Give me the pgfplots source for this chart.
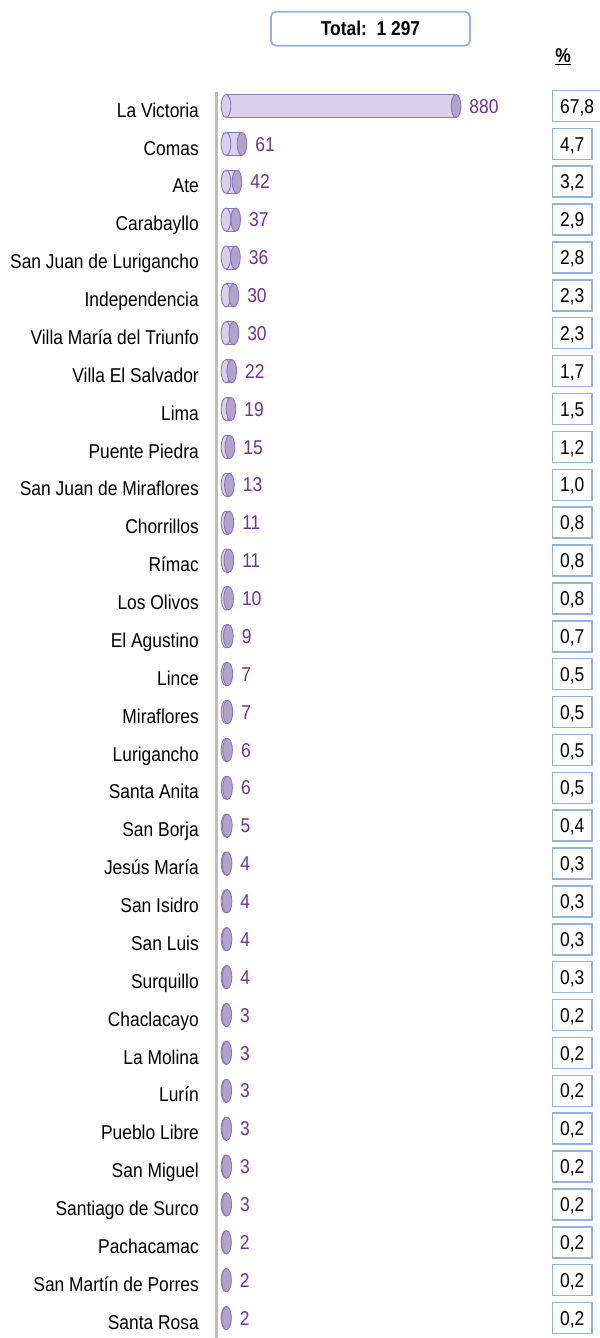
\documentclass[border=0pt]{standalone}
\usepackage{fontspec}
\setmainfont{Liberation Sans}[FakeStretch=0.87]
\usepackage{pgfplots}
\pgfplotsset{compat=1.18}
\usepackage{pgfplotstable}
\definecolor{barfill}{RGB}{217,209,235}
\definecolor{baredge}{RGB}{140,118,190}
\definecolor{capfill}{RGB}{176,164,202}
\definecolor{vallab}{RGB}{112,48,160}
\definecolor{boxblue}{RGB}{149,179,215}
\definecolor{axgray}{RGB}{190,190,190}
\newcommand\lab{\fontsize{20bp}{23bp}\selectfont}

\pgfplotstableread{
idx val pct base pos
0 880 67,8 0 1247
1 61 4,7 0 1247
2 42 3,2 0 1247
3 37 2,9 0 1247
4 36 2,8 0 1247
5 30 2,3 0 1247
6 30 2,3 0 1247
7 22 1,7 0 1247
8 19 1,5 0 1247
9 15 1,2 0 1247
10 13 1,0 0 1247
11 11 0,8 0 1247
12 11 0,8 0 1247
13 10 0,8 0 1247
14 9 0,7 0 1247
15 7 0,5 0 1247
16 7 0,5 0 1247
17 6 0,5 0 1247
18 6 0,5 0 1247
19 5 0,4 0 1247
20 4 0,3 0 1247
21 4 0,3 0 1247
22 4 0,3 0 1247
23 4 0,3 0 1247
24 3 0,2 0 1247
25 3 0,2 0 1247
26 3 0,2 0 1247
27 3 0,2 0 1247
28 3 0,2 0 1247
29 3 0,2 0 1247
30 2 0,2 0 1247
31 2 0,2 0 1247
32 2 0,2 0 1247
}\datatable

\begin{document}
\begin{tikzpicture}
\begin{axis}[
  at={(216.5bp,0bp)}, anchor=south west,
  scale only axis, width=383.5bp, height=1246bp,
  xmin=-36.3, xmax=1431, ymin=-0.37, ymax=32.528,
  y dir=reverse,
  axis x line=none,
  axis y line*=left,
  y axis line style={draw=axgray, line width=3bp},
  ytick={0,...,32},
  yticklabels={La Victoria, Comas, Ate, Carabayllo, San Juan de Lurigancho, Independencia, Villa María del Triunfo, Villa El Salvador, Lima, Puente Piedra, San Juan de Miraflores, Chorrillos, Rímac, Los Olivos, El Agustino, Lince, Miraflores, Lurigancho, Santa Anita, San Borja, Jesús María, San Isidro, San Luis, Surquillo, Chaclacayo, La Molina, Lurín, Pueblo Libre, San Miguel, Santiago de Surco, Pachacamac, San Martín de Porres, Santa Rosa},
  major tick length=0pt,
  yticklabel style={font=\lab, anchor=east, inner sep=0pt, xshift=-17.5bp, yshift=-4bp, text height=14.3bp, text depth=0pt},
  clip=false,
]
\addplot[xbar, bar width=23bp, fill=barfill, draw=baredge, line width=0.9bp]
  table[x=val, y=idx] {\datatable};
\addplot[only marks, mark=*, mark size=11.5bp,
  mark options={xscale=0.42, fill=barfill, draw=baredge, line width=0.9bp}]
  table[x=base, y=idx] {\datatable};
\addplot[only marks, mark=*, mark size=11.5bp,
  mark options={xscale=0.42, fill=capfill, draw=baredge, line width=0.9bp},
  nodes near coords, point meta=explicit symbolic,
  every node near coord/.append style={anchor=west, xshift=13bp, inner sep=0pt, text=vallab, font=\lab, text height=14.3bp, text depth=0pt}]
  table[x=val, y=idx, meta=val] {\datatable};
\addplot[only marks, mark=none,
  nodes near coords, point meta=explicit symbolic,
  every node near coord/.append style={anchor=west, draw=boxblue, line width=1.5bp, fill=white, text=black, inner xsep=7.5bp, inner ysep=0pt, minimum height=31bp, text height=14.3bp, text depth=0pt, font=\lab}]
  table[x=pos, y=idx, meta=pct] {\datatable};
\end{axis}
\node[draw=boxblue, line width=1.8bp, rounded corners=5bp, minimum width=199bp, minimum height=34bp, inner sep=0pt, font=\lab\bfseries] at (370.5bp,1309.3bp) {Total:\ \ 1 297};
\node[font=\lab\bfseries, inner sep=0pt] at (563bp,1281bp) {\underline{\%}};
\pgfresetboundingbox
\path[use as bounding box] (0bp,0bp) rectangle (600bp,1338bp);
\end{tikzpicture}
\end{document}
